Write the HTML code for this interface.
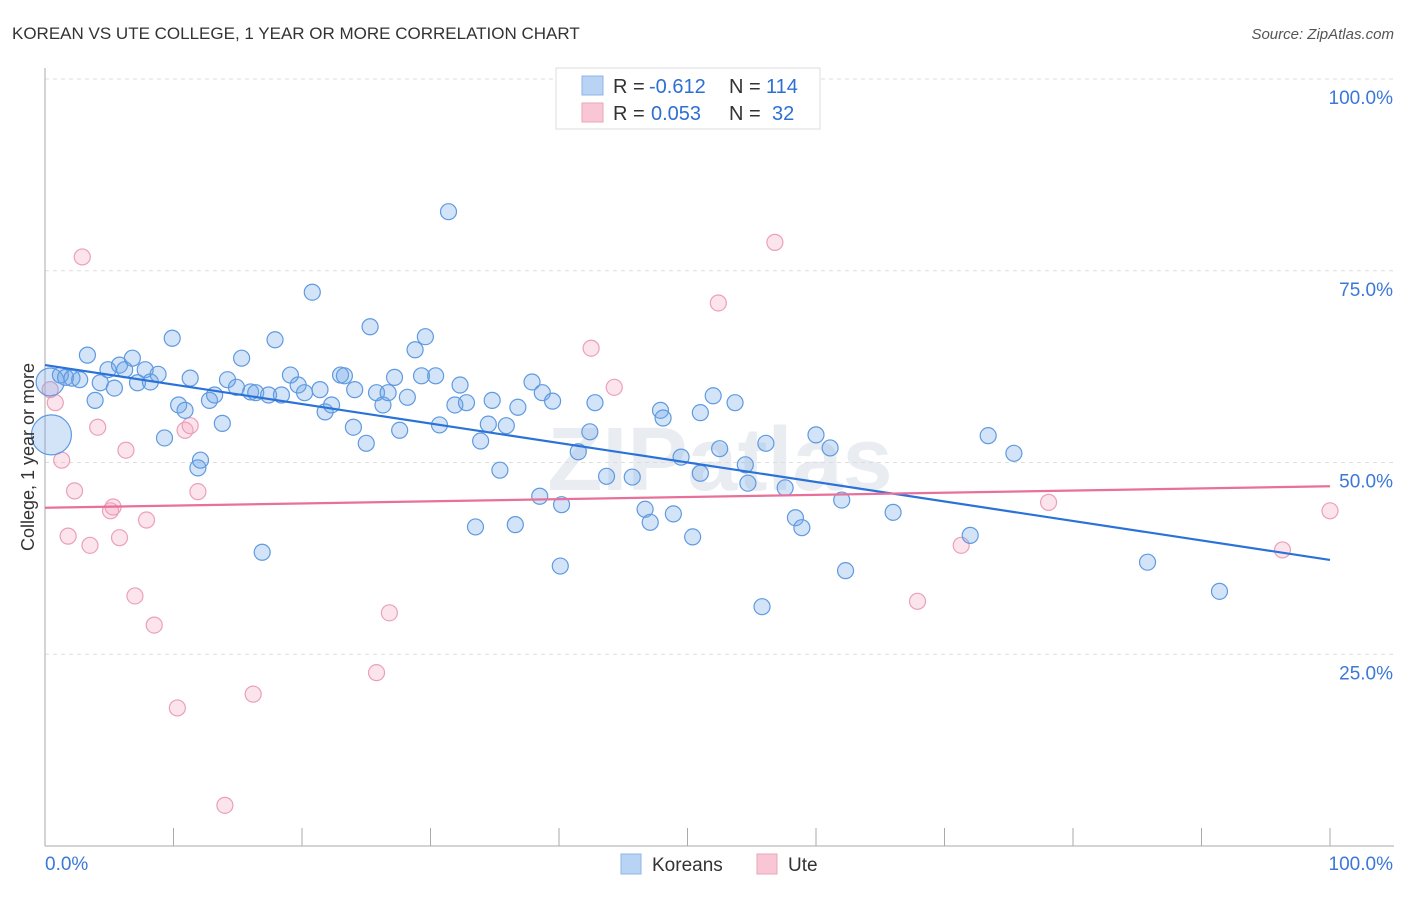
<!DOCTYPE html>
<html><head><meta charset="utf-8"><style>
body{margin:0;background:#fff;font-family:"Liberation Sans",sans-serif;}
svg text{font-family:"Liberation Sans",sans-serif;}
</style></head><body>
<svg id="chart" width="1406" height="892" xmlns="http://www.w3.org/2000/svg">
<text x="12" y="39" font-size="17" fill="#333">KOREAN VS UTE COLLEGE, 1 YEAR OR MORE CORRELATION CHART</text>
<text x="1394" y="39" font-size="15" fill="#555" font-style="italic" text-anchor="end">Source: ZipAtlas.com</text>
<text x="720" y="490" font-size="90" fill="#e9edf2" font-weight="bold" text-anchor="middle">ZIPatlas</text>
<g id="grid"></g>
<g id="axes"></g>
<g id="marks"></g>
<text transform="translate(34,457) rotate(-90)" font-size="18" fill="#333" text-anchor="middle">College, 1 year or more</text>
<g>
<rect x="556" y="68" width="264" height="61" fill="#fff" stroke="#ddd"/>
<rect x="582" y="76" width="21" height="19" fill="#b8d3f4" stroke="#8fb6e8"/>
<rect x="582" y="103" width="21" height="19" fill="#f8c6d4" stroke="#eaa6bb"/>
<text x="613" y="93" font-size="20" fill="#333">R =</text>
<text x="649" y="93" font-size="20" fill="#2e6fd3">-0.612</text>
<text x="729" y="93" font-size="20" fill="#333">N =</text>
<text x="766" y="93" font-size="20" fill="#2e6fd3">114</text>
<text x="613" y="120" font-size="20" fill="#333">R =</text>
<text x="651" y="120" font-size="20" fill="#2e6fd3">0.053</text>
<text x="729" y="120" font-size="20" fill="#333">N =</text>
<text x="772" y="120" font-size="20" fill="#2e6fd3">32</text>
</g>
<g>
<rect x="621" y="854" width="20" height="20" fill="#b8d3f4" stroke="#8fb6e8"/>
<text x="652" y="871" font-size="19" fill="#333">Koreans</text>
<rect x="757" y="854" width="20" height="20" fill="#f8c6d4" stroke="#eaa6bb"/>
<text x="788" y="871" font-size="19" fill="#333">Ute</text>
</g>
</svg>
<script>
const yTicks=[25,50,75,100];
const yTickLabels=["25.0%","50.0%","75.0%","100.0%"];
const xTickLabels=["0.0%","100.0%"];
const blueX=[0.4,0.5,1.2,1.6,2.1,2.7,3.3,3.9,4.3,4.9,5.4,5.8,6.2,6.8,7.2,7.8,8.2,8.8,9.3,9.9,10.4,10.9,11.3,11.9,12.1,12.8,13.2,13.8,14.2,14.9,15.3,16.0,16.4,16.9,17.4,17.9,18.4,19.1,19.7,20.2,20.8,21.4,21.8,22.3,23.0,23.3,24.0,24.1,25.0,25.3,25.8,26.3,26.7,27.2,27.6,28.2,28.8,29.3,29.6,30.4,30.7,31.4,31.9,32.3,32.8,33.5,33.9,34.5,34.8,35.4,35.9,36.6,36.8,37.9,38.5,38.7,39.5,40.1,40.2,41.5,42.4,42.8,43.7,45.7,46.7,47.1,47.9,48.1,48.9,49.5,50.4,51.0,51.0,52.0,52.5,53.7,54.5,54.7,55.8,56.1,57.6,58.4,58.9,60.0,61.1,62.0,62.3,66.0,72.0,73.4,75.4,85.8,91.4];
const blueY=[60.5,53.6,61.4,61.1,61.0,60.8,64.0,58.1,60.4,62.1,59.7,62.7,62.1,63.6,60.4,62.1,60.5,61.5,53.2,66.2,57.5,56.8,61.0,49.3,50.3,58.1,58.8,55.1,60.8,59.8,63.6,59.2,59.1,38.3,58.8,66.0,58.8,61.4,60.1,59.1,72.2,59.5,56.6,57.5,61.4,61.3,54.6,59.5,52.5,67.7,59.1,57.5,59.1,61.1,54.2,58.5,64.7,61.3,66.4,61.3,54.9,82.7,57.5,60.1,57.8,41.6,52.8,55.0,58.1,49.0,54.8,41.9,57.2,60.5,45.6,59.1,58.0,36.5,44.5,51.4,54.0,57.8,48.2,48.1,43.9,42.2,56.8,55.8,43.3,50.7,40.3,48.6,56.5,58.7,51.8,57.8,49.7,47.3,31.2,52.5,46.7,42.8,41.5,53.6,51.9,45.1,35.9,43.5,40.5,53.5,51.2,37.0,33.2];
const blueSize=[14,20];
const pinkX=[0.4,0.8,1.3,2.3,1.8,2.9,3.5,4.1,5.1,5.3,5.8,6.3,7.0,7.9,8.5,10.3,10.9,11.3,11.9,14.0,16.2,25.8,26.8,42.5,44.3,52.4,56.8,67.9,71.3,78.1,96.3,100];
const pinkY=[59.5,57.8,50.3,46.3,40.4,76.8,39.2,54.6,43.7,44.2,40.2,51.6,32.6,42.5,28.8,18.0,54.2,54.8,46.2,5.3,19.8,22.6,30.4,64.9,59.8,70.8,78.7,31.9,39.2,44.8,38.6,43.7];
const blueTrend=[62.7,37.3];
const pinkTrend=[44.1,46.9];
const NS="http://www.w3.org/2000/svg";
const X=v=>45+v*12.85, Y=v=>846-v*7.67;
function mk(t,a,p){const e=document.createElementNS(NS,t);for(const k in a)e.setAttribute(k,a[k]);p.appendChild(e);return e;}
const grid=document.getElementById('grid'),axes=document.getElementById('axes'),marks=document.getElementById('marks');
yTicks.forEach((t,i)=>{
 const l=mk('line',{x1:45,x2:1394,y1:Y(t),y2:Y(t),stroke:'#ddd','stroke-dasharray':'4,4'},grid);
 
 
 const tx=mk('text',{x:1393,y:Y(t)+25,'font-size':19,fill:'#3b78d8','text-anchor':'end'},axes);
 tx.textContent=yTickLabels[i];
 
 
});
mk('line',{x1:45,x2:45,y1:68,y2:846,stroke:'#aaa'},axes);
mk('line',{x1:45,x2:1394,y1:846,y2:846,stroke:'#aaa'},axes);
for(let i=0;i<=10;i++){const tk=mk('line',{x1:X(i*10),x2:X(i*10),y1:828,y2:846,stroke:'#aaa'},axes);
 
 }
[[0,'start',45],[1,'end',1393]].forEach(([i,a,x])=>{const t=mk('text',{x:x,y:870,'font-size':19,fill:'#3b78d8','text-anchor':a},axes);t.textContent=xTickLabels[i];
 
 });
pinkX.forEach((x,i)=>{const c=mk('circle',{cx:X(x),cy:Y(pinkY[i]),r:8,fill:'rgba(244,166,192,0.3)',stroke:'#eba0b8','stroke-width':1.2},marks);
 
 });
blueX.forEach((x,i)=>{const c=mk('circle',{cx:X(x),cy:Y(blueY[i]),r:blueSize[i]||8,fill:'rgba(110,165,232,0.3)',stroke:'#5f9ae0','stroke-width':1.2},marks);
 
 });
const bl=mk('line',{x1:X(0),y1:Y(blueTrend[0]),x2:X(100),y2:Y(blueTrend[1]),stroke:'#2a72d8','stroke-width':2.2},marks);


const pl=mk('line',{x1:X(0),y1:Y(pinkTrend[0]),x2:X(100),y2:Y(pinkTrend[1]),stroke:'#e8709a','stroke-width':2.2},marks);


</script>
</body></html>
